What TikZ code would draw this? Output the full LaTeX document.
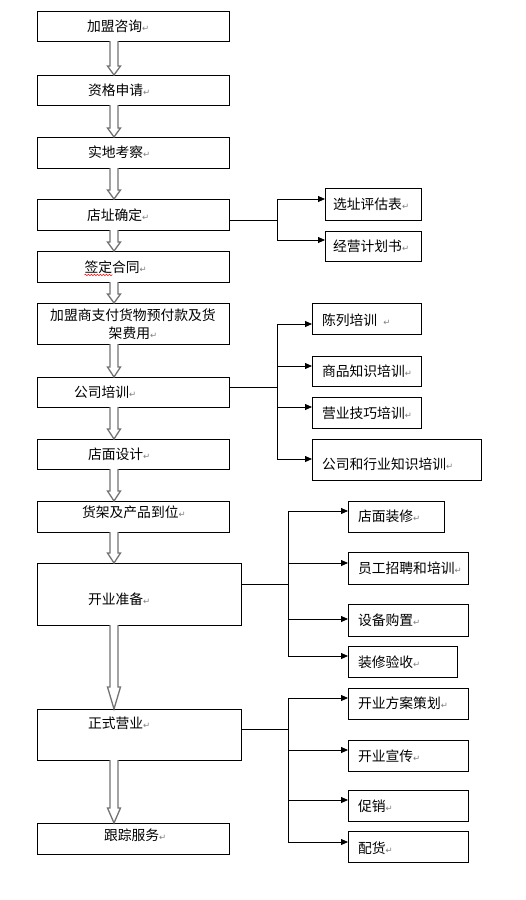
\documentclass[tikz,border=0pt]{standalone}
\usepackage{fontspec}
\newfontfamily\cjk{Noto Sans CJK SC}
\newfontfamily\djv{DejaVu Sans}
\usetikzlibrary{arrows.meta,calc,decorations.pathmorphing}
\newcommand\parmark{{\color{gray}\djv\fontsize{8.5}{8.5}\selectfont ↵}}
\newcommand\bx[5]{\node[boxst, anchor=north west, minimum width=#4pt, minimum height=#5pt] (#1) at (#2,#3) {};}
\newcommand\tx[4]{\node[txt] (#1) at (#2,#3) {#4\parmark};}
\newcommand\barr[3]{\draw[blk] ($(#1.south west)+(73,0)$) -- ($(#2.north west)+(73,-#3)$) -- ($(#2.north west)+(70.5,-#3)$) -- ($(#2.north west)+(77,0)$) -- ($(#2.north west)+(83.5,-#3)$) -- ($(#2.north west)+(81,-#3)$) -- ($(#1.south west)+(81,0)$);}
\begin{document}
\begin{tikzpicture}[x=1pt,y=-1pt,
  boxst/.style={draw=black, line width=0.8pt, inner sep=0pt, outer sep=0pt, fill=white},
  txt/.style={inner sep=0pt, outer sep=0pt, font=\cjk\fontsize{13.8}{18}\selectfont, anchor=west},
  blk/.style={draw=black!55, line width=1.3pt, fill=white, line join=miter},
  ln/.style={line width=0.8pt},
  tip/.style={ln, -{Triangle[length=7pt,width=6pt]}}]
\useasboundingbox[fill=white] (0,0) rectangle (526,900);
% main column
\bx{n1}{37}{11}{192}{30}
\bx{n2}{37}{75}{192}{30}
\bx{n3}{37}{137}{192}{31}
\bx{n4}{37}{199}{192}{31}
\bx{n5}{37}{251}{192}{31}
\bx{n6}{37}{303}{192}{41}
\bx{n7}{37}{377}{192}{30}
\bx{n8}{37}{439}{192}{30}
\bx{n9}{37}{501}{192}{31}
\bx{n10}{37}{563}{204}{62}
\bx{n11}{37}{709}{204}{51}
\bx{n12}{37}{823}{192}{31}
% side boxes
\bx{s1}{325}{188}{96}{32}
\bx{s2}{325}{231}{96}{30}
\bx{t1}{312}{303}{109}{31}
\bx{t2}{312}{356}{109}{30}
\bx{t3}{312}{397}{109}{31}
\bx{t4}{312}{439}{169}{41}
\bx{u1}{348}{501}{96}{31}
\bx{u2}{348}{552}{120}{32}
\bx{u3}{348}{604}{120}{32}
\bx{u4}{348}{646}{109}{31}
\bx{v1}{348}{688}{120}{31}
\bx{v2}{348}{740}{120}{31}
\bx{v3}{348}{790}{120}{31}
\bx{v4}{348}{831}{120}{31}
% texts
\tx{l1}{87}{26}{加盟咨询}
\tx{l2}{88}{90}{资格申请}
\tx{l3}{88}{152.5}{实地考察}
\tx{l4}{87}{215}{店址确定}
\tx{l5}{84.5}{267}{签定合同}
\node[txt, anchor=center, align=center] (l6) at (133,324) {加盟商支付货物预付款及货\\架费用\parmark};
\tx{l7}{74}{392}{公司培训}
\tx{l8}{88}{454}{店面设计}
\tx{l9}{82}{512}{货架及产品到位}
\tx{l10}{88}{599}{开业准备}
\tx{l11}{88}{723}{正式营业}
\tx{l12}{104}{835}{跟踪服务}
\tx{m1}{333}{204}{选址评估表}
\tx{m2}{333}{246}{经营计划书}
\tx{m3}{322}{320}{陈列培训\ \ }
\tx{m4}{322}{371}{商品知识培训}
\tx{m5}{322}{413}{营业技巧培训}
\tx{m6}{322}{464}{公司和行业知识培训}
\tx{m7}{358}{516}{店面装修}
\tx{m8}{358}{568}{员工招聘和培训}
\tx{m9}{358}{620}{设备购置}
\tx{m10}{358}{662}{装修验收}
\tx{m11}{358}{703}{开业方案策划}
\tx{m12}{358}{756}{开业宣传}
\tx{m13}{358}{806}{促销}
\tx{m14}{358}{848}{配货}
% spell-check wave
\draw[red, line width=0.5pt, decorate, decoration={snake, amplitude=0.8pt, segment length=3pt}] ($(l5.south west)+(0,1.5)$) -- ($(l5.south west)+(28,1.5)$);
% block arrows
\barr{n1}{n2}{9}
\barr{n2}{n3}{9}
\barr{n3}{n4}{9}
\barr{n4}{n5}{9}
\barr{n5}{n6}{9}
\barr{n6}{n7}{10}
\barr{n7}{n8}{10}
\barr{n8}{n9}{10}
\barr{n9}{n10}{10}
\barr{n10}{n11}{22}
\barr{n11}{n12}{15}
% branch A
\coordinate (am) at (277,220);
\coordinate (a1) at (277,199);
\coordinate (a2) at (277,240);
\draw[ln] (n4.east |- am) -- (am);
\draw[ln] (a1) -- (a2);
\draw[tip] (a1) -- (s1.west |- a1);
\draw[tip] (a2) -- (s2.west |- a2);
% branch B
\coordinate (bm) at (277,387);
\coordinate (b1) at (277,324);
\coordinate (b2) at (277,366);
\coordinate (b3) at (277,407);
\coordinate (b4) at (277,459);
\draw[ln] (n7.east |- bm) -- (bm);
\draw[ln] (b1) -- (b4);
\draw[tip] (b1) -- (t1.west |- b1);
\draw[tip] (b2) -- (t2.west |- b2);
\draw[tip] (b3) -- (t3.west |- b3);
\draw[tip] (b4) -- (t4.west |- b4);
% branch C
\coordinate (cm) at (288,584);
\coordinate (c1) at (288,511);
\coordinate (c2) at (288,563);
\coordinate (c3) at (288,619);
\coordinate (c4) at (288,656);
\draw[ln] (n10.east |- cm) -- (cm);
\draw[ln] (c1) -- (c4);
\draw[tip] (c1) -- (u1.west |- c1);
\draw[tip] (c2) -- (u2.west |- c2);
\draw[tip] (c3) -- (u3.west |- c3);
\draw[tip] (c4) -- (u4.west |- c4);
% branch D
\coordinate (dm) at (288,729);
\coordinate (d1) at (288,698);
\coordinate (d2) at (288,750);
\coordinate (d3) at (288,800);
\coordinate (d4) at (288,842);
\draw[ln] (n11.east |- dm) -- (dm);
\draw[ln] (d1) -- (d4);
\draw[tip] (d1) -- (v1.west |- d1);
\draw[tip] (d2) -- (v2.west |- d2);
\draw[tip] (d3) -- (v3.west |- d3);
\draw[tip] (d4) -- (v4.west |- d4);
\end{tikzpicture}
\end{document}
